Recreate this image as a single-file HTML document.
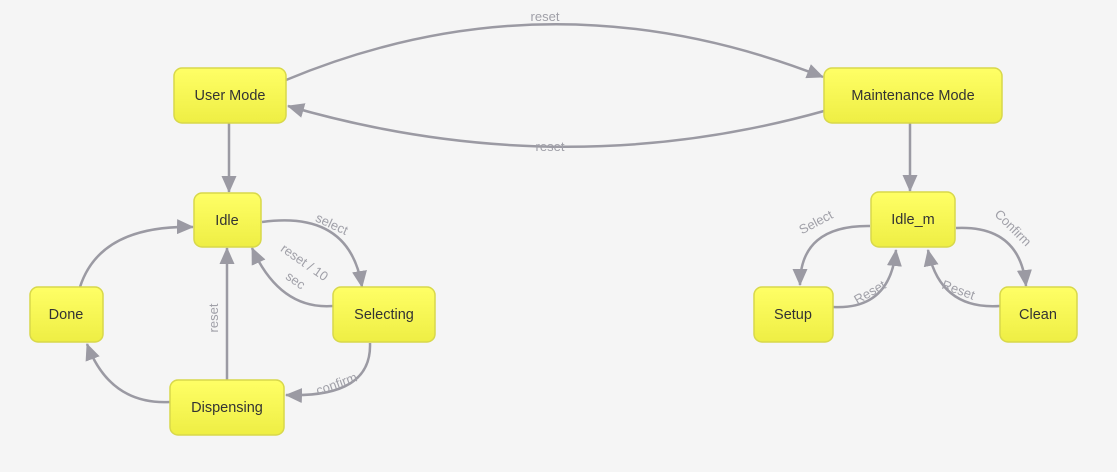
<!DOCTYPE html>
<html><head><meta charset="utf-8"><style>
html,body{margin:0;padding:0;background:#f5f5f5;}
svg{display:block;font-family:"Liberation Sans",Arial,sans-serif;}
.n{fill:url(#g);stroke:#d8d84a;stroke-width:1.5;}
.t{font-size:14.5px;fill:#333;text-anchor:middle;}
.e{fill:none;stroke:#9b9aa3;stroke-width:2.5;}
.l{font-size:13px;fill:#a0a0a8;text-anchor:middle;}
</style></head><body>
<svg width="1117" height="472" viewBox="0 0 1117 472">
<defs>
<linearGradient id="g" x1="0" y1="0" x2="0" y2="1"><stop offset="0" stop-color="#ffff66"/><stop offset="1" stop-color="#eeee44"/></linearGradient>
<marker id="b" markerWidth="17" markerHeight="15" refX="16" refY="7.5" orient="auto" markerUnits="userSpaceOnUse"><path d="M0,0 L17,7.5 L0,15 z" fill="#9b9aa3"/></marker>
</defs>
<rect width="1117" height="472" fill="#f5f5f5"/>
<path class="e" d="M286,80 Q550,-30 823,77" marker-end="url(#b)"/>
<text class="l" x="545" y="21">reset</text>
<path class="e" d="M824,111 Q560,185 288,106" marker-end="url(#b)"/>
<text class="l" x="550" y="151">reset</text>
<path class="e" d="M229,123 L229,192" marker-end="url(#b)"/>
<path class="e" d="M910,123 L910,191" marker-end="url(#b)"/>
<path class="e" d="M262,222 Q350,210 362,287" marker-end="url(#b)"/>
<text class="l" x="330" y="228" transform="rotate(25 330 228)">select</text>
<path class="e" d="M333,306 Q280,310 252,248" marker-end="url(#b)"/>
<text class="l" x="302" y="266" transform="rotate(35 302 266)">reset / 10</text>
<text class="l" x="293" y="284" transform="rotate(35 293 284)">sec</text>
<path class="e" d="M370,343 Q372,398 286,395" marker-end="url(#b)"/>
<text class="l" x="338" y="388" transform="rotate(-20 338 388)">confirm</text>
<path class="e" d="M227,380 L227,248" marker-end="url(#b)"/>
<text class="l" x="218" y="318" transform="rotate(-90 218 318)">reset</text>
<path class="e" d="M170,402 Q110,405 87,344" marker-end="url(#b)"/>
<path class="e" d="M80,287 Q100,225 193,227" marker-end="url(#b)"/>
<path class="e" d="M870,226 Q800,225 800,285" marker-end="url(#b)"/>
<text class="l" x="818" y="226" transform="rotate(-28 818 226)">Select</text>
<path class="e" d="M833,307 Q890,310 896,250" marker-end="url(#b)"/>
<text class="l" x="872" y="296" transform="rotate(-30 872 296)">Reset</text>
<path class="e" d="M956,228 Q1020,225 1026,286" marker-end="url(#b)"/>
<text class="l" x="1010" y="231" transform="rotate(45 1010 231)">Confirm</text>
<path class="e" d="M1000,306 Q940,310 928,250" marker-end="url(#b)"/>
<text class="l" x="957" y="294" transform="rotate(20 957 294)">Reset</text>
<rect class="n" x="174" y="68" width="112" height="55" rx="8"/><text class="t" x="230" y="100">User Mode</text>
<rect class="n" x="824" y="68" width="178" height="55" rx="8"/><text class="t" x="913" y="100">Maintenance Mode</text>
<rect class="n" x="194" y="193" width="67" height="54" rx="8"/><text class="t" x="227" y="225">Idle</text>
<rect class="n" x="333" y="287" width="102" height="55" rx="8"/><text class="t" x="384" y="319">Selecting</text>
<rect class="n" x="30" y="287" width="73" height="55" rx="8"/><text class="t" x="66" y="319">Done</text>
<rect class="n" x="170" y="380" width="114" height="55" rx="8"/><text class="t" x="227" y="412">Dispensing</text>
<rect class="n" x="871" y="192" width="84" height="55" rx="8"/><text class="t" x="913" y="224">Idle_m</text>
<rect class="n" x="754" y="287" width="79" height="55" rx="8"/><text class="t" x="793" y="319">Setup</text>
<rect class="n" x="1000" y="287" width="77" height="55" rx="8"/><text class="t" x="1038" y="319">Clean</text>
</svg>
</body></html>
